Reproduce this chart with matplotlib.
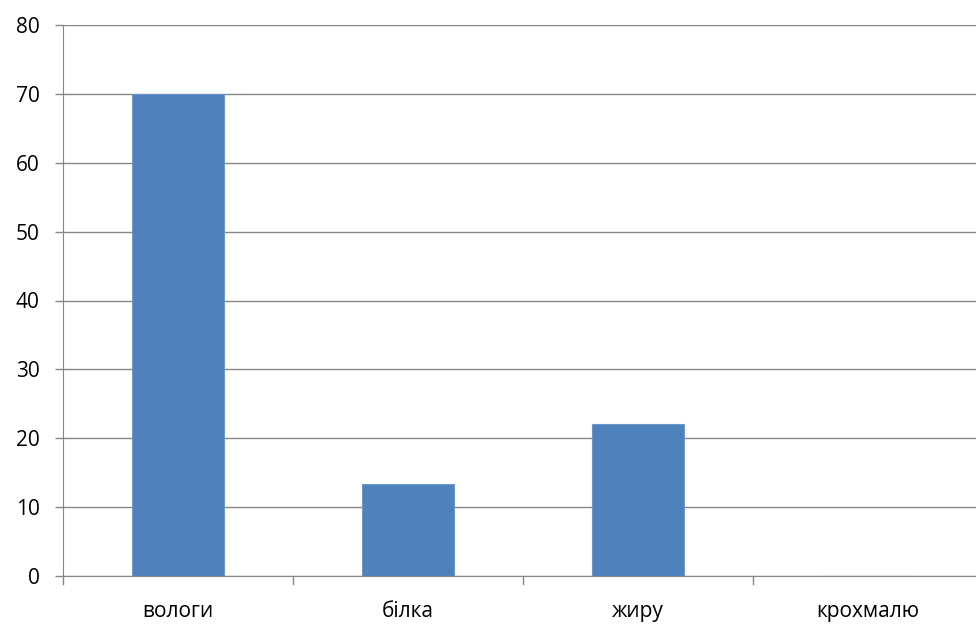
import matplotlib
matplotlib.use("Agg")
import matplotlib.pyplot as plt

categories = ["вологи", "білка", "жиру", "крохмалю"]
values = [70, 13.3, 22, 0]
yticks = [0, 10, 20, 30, 40, 50, 60, 70, 80]

plt.rcParams['font.family'] = ['Open Sans', 'DejaVu Sans']

W, H = 976, 624
fig = plt.figure(figsize=(W/100, H/100), dpi=100)
left, right, top, bottom = 63, 976, 25, 576
ax = fig.add_axes([left/W, 1-bottom/H, (right-left)/W, (bottom-top)/H])

cat_w = 230
ax.set_xlim(-0.5, -0.5 + (right-left)/cat_w)
ax.set_ylim(0, 80)

x = list(range(len(categories)))
ax.bar(x, values, width=0.4, color="#4F81BD", edgecolor="#6F97C8", linewidth=0.8, zorder=3)

fs = 15
ax.set_yticks(yticks)
ax.set_yticklabels([str(v) for v in yticks], fontsize=fs, color="#000000")
ax.set_xticks(x)
ax.set_xticklabels(categories, fontsize=fs, color="#000000")
ax.tick_params(axis='x', length=0, pad=18)
ax.tick_params(axis='y', length=5.8, width=1, color="#868686", pad=11)
for b in [-0.5, 0.5, 1.5, 2.5]:
    ax.plot([b, b], [0, -0.015], transform=ax.get_xaxis_transform(), color="#868686",
            lw=1, clip_on=False)

ax.grid(axis='y', color="#868686", linewidth=1, zorder=0)
for s in ['top', 'right']:
    ax.spines[s].set_visible(False)
ax.spines['left'].set_color("#868686")
ax.spines['bottom'].set_color("#868686")

fig.savefig("out.png", dpi=100)
